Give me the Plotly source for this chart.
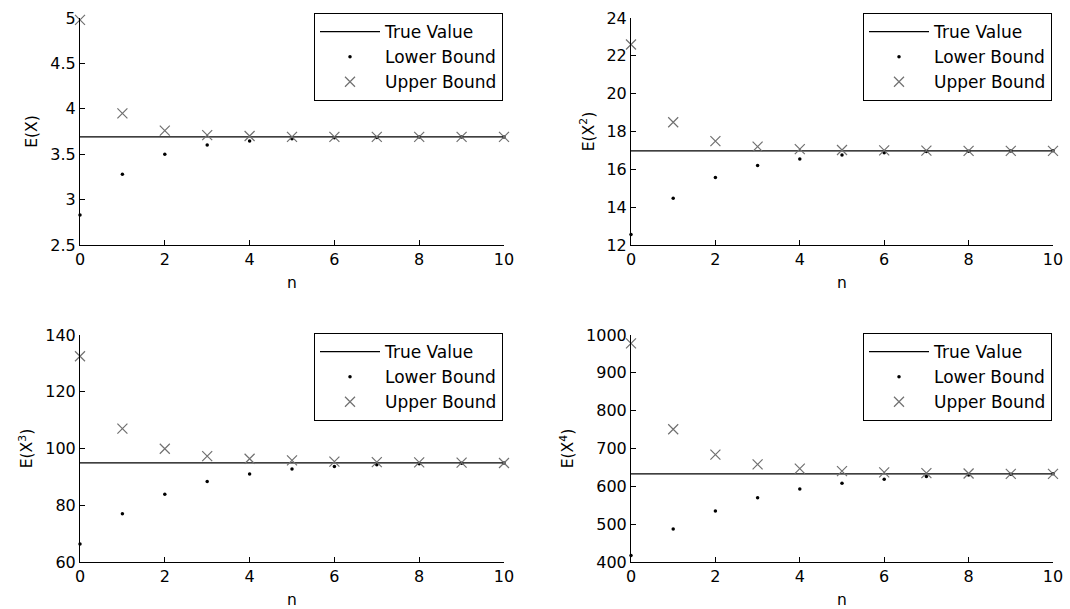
import plotly.graph_objects as go

n = list(range(11))

true_1 = 3.69
upper_1 = [4.98, 3.95, 3.76, 3.71, 3.70, 3.69, 3.69, 3.69, 3.69, 3.69, 3.69]
lower_1 = [2.83, 3.28, 3.50, 3.60, 3.645, 3.67, 3.68, 3.685, 3.69, 3.69, 3.69]

true_2 = 16.98
upper_2 = [22.6, 18.49, 17.49, 17.2, 17.07, 17.02, 17.0, 16.99, 16.98, 16.98, 16.98]
lower_2 = [12.55, 14.47, 15.57, 16.2, 16.55, 16.76, 16.88, 16.94, 16.96, 16.97, 16.98]

true_3 = 94.9
upper_3 = [132.5, 107.0, 99.9, 97.3, 96.4, 95.8, 95.4, 95.2, 95.1, 95.0, 94.9]
lower_3 = [66.3, 77.0, 83.9, 88.4, 91.0, 92.8, 93.7, 94.3, 94.6, 94.8, 94.9]

true_4 = 633
upper_4 = [978, 751, 684, 658, 647, 640, 637, 635, 634, 633, 633]
lower_4 = [417, 487, 535, 570, 593, 608, 619, 626, 630, 632, 633]

ylabels = ["E(X)", "E(X<sup>2</sup>)", "E(X<sup>3</sup>)", "E(X<sup>4</sup>)"]
yranges = [[2.5, 5], [12, 24], [60, 140], [400, 1000]]
ydticks = [0.5, 2, 20, 100]

trues = [true_1, true_2, true_3, true_4]
uppers = [upper_1, upper_2, upper_3, upper_4]
lowers = [lower_1, lower_2, lower_3, lower_4]

W, H = 1070, 609
xdoms = [[80 / W, 504 / W], [631 / W, 1053 / W], [80 / W, 504 / W], [631 / W, 1053 / W]]
ydoms = [[1 - 245 / H, 1 - 18 / H], [1 - 245 / H, 1 - 18 / H],
         [1 - 562 / H, 1 - 335 / H], [1 - 562 / H, 1 - 335 / H]]
leg_pos = [(503 / W, 1 - 13 / H), (1052 / W, 1 - 13 / H),
           (503 / W, 1 - 333 / H), (1052 / W, 1 - 333 / H)]

family = "DejaVu Sans, Liberation Sans, sans-serif"
tickfont = dict(family=family, size=16, color="black")
titlefont = dict(family=family, size=15.5, color="black")
legfont = dict(family=family, size=17, color="black")

fig = go.Figure()
layout = dict(
    width=W, height=H, margin=dict(l=0, r=0, t=0, b=0, autoexpand=False),
    plot_bgcolor="white", paper_bgcolor="white", font=tickfont, showlegend=True,
)

for i in range(4):
    k = i + 1
    xa = "x" if k == 1 else f"x{k}"
    ya = "y" if k == 1 else f"y{k}"
    lg = "legend" if k == 1 else f"legend{k}"
    fig.add_trace(go.Scatter(
        x=n, y=[trues[i]] * len(n), mode="lines", name="True Value",
        line=dict(color="black", width=1.3), xaxis=xa, yaxis=ya, legend=lg,
    ))
    fig.add_trace(go.Scatter(
        x=n, y=lowers[i], mode="markers", name="Lower Bound",
        marker=dict(symbol="circle", size=3.5, color="black"),
        xaxis=xa, yaxis=ya, legend=lg, cliponaxis=False,
    ))
    fig.add_trace(go.Scatter(
        x=n, y=uppers[i], mode="markers", name="Upper Bound",
        marker=dict(symbol="x-thin", size=10, color="#707070",
                    line=dict(color="#707070", width=1.2)),
        xaxis=xa, yaxis=ya, legend=lg, cliponaxis=False,
    ))
    axx = dict(
        domain=xdoms[i], range=[0, 10], dtick=2, anchor=ya,
        showline=True, linecolor="black", linewidth=1, mirror=False,
        ticks="inside", ticklen=5, tickcolor="black", showgrid=False,
        zeroline=False, title=dict(text="n", standoff=8, font=titlefont),
        tickfont=tickfont, automargin=False,
    )
    axy = dict(
        domain=ydoms[i], range=yranges[i], dtick=ydticks[i], anchor=xa,
        showline=True, linecolor="black", linewidth=1, mirror=False,
        ticks="inside", ticklen=5, tickcolor="black", showgrid=False,
        zeroline=False, title=dict(text=ylabels[i], standoff=8, font=titlefont),
        tickfont=tickfont, automargin=False,
    )
    layout["xaxis" if k == 1 else f"xaxis{k}"] = axx
    layout["yaxis" if k == 1 else f"yaxis{k}"] = axy
    lx, ly = leg_pos[i]
    layout[lg] = dict(
        x=lx, y=ly, xanchor="right", yanchor="top", xref="paper", yref="paper",
        bgcolor="white", bordercolor="black", borderwidth=1,
        font=legfont, tracegroupgap=0, itemwidth=60,
    )

fig.update_layout(**layout)
fig.write_html("out.html")
